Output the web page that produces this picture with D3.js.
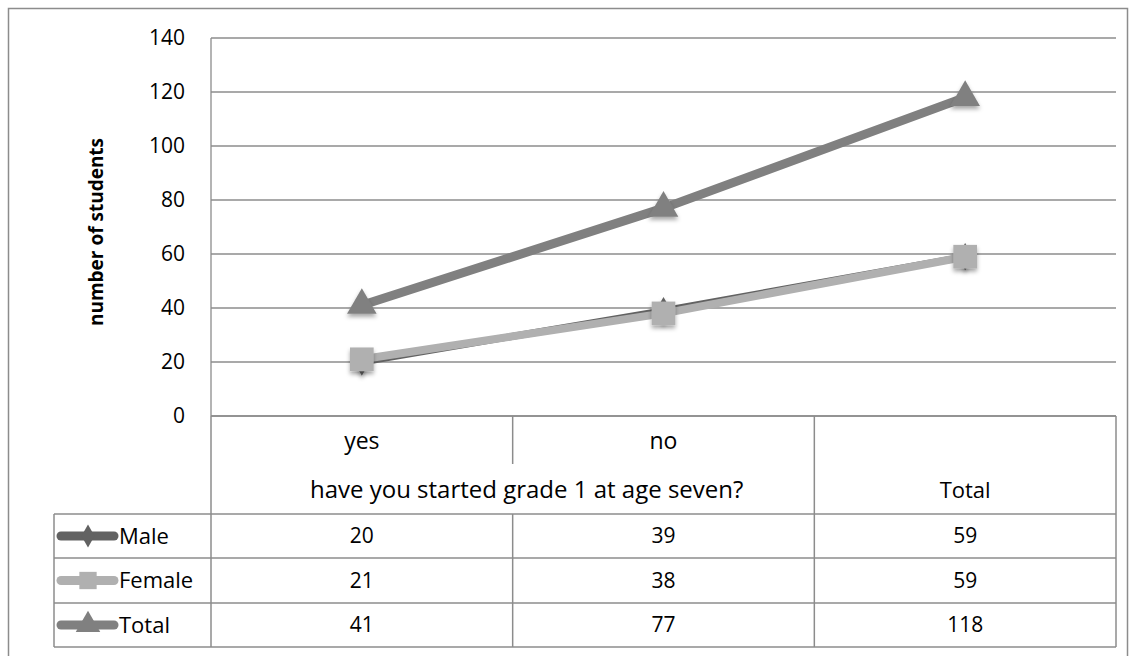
<!DOCTYPE html>
<html>
<head>
<meta charset="utf-8">
<script src="https://cdn.jsdelivr.net/npm/d3@7"></script>
<style>
  html, body { margin: 0; padding: 0; background: #fff; }
  svg { display: block; }
  text { font-family: "Open Sans", Lato, sans-serif; fill: #000; }
</style>
</head>
<body>
<svg id="chart" width="1135" height="656"></svg>
<script>
// Responses to "have you started grade 1 at age seven?"
const categories = ["yes", "no", "Total"];
const groupLabel = "have you started grade 1 at age seven?";
const maleValues = [20, 39, 59];
const femaleValues = [21, 38, 59];
const totalValues = [41, 77, 118];
const yTicks = [0, 20, 40, 60, 80, 100, 120, 140];

const series = [
  { name: "Male", values: maleValues, color: "#626262", width: 7, marker: "diamond" },
  { name: "Female", values: femaleValues, color: "#b0b0b0", width: 8, marker: "square" },
  { name: "Total", values: totalValues, color: "#808080", width: 9, marker: "triangle" }
];

const FS_NUM = 21;   // numbers
const FS_WORD = 23;  // words in the table

const svg = d3.select("#chart");

// Drop shadow for markers
const defs = svg.append("defs");
const f = defs.append("filter").attr("id", "shadow")
  .attr("x", "-50%").attr("y", "-50%").attr("width", "200%").attr("height", "200%");
f.append("feDropShadow").attr("dx", 0).attr("dy", 3).attr("stdDeviation", 2.2)
  .attr("flood-color", "#000").attr("flood-opacity", 0.35);

// Outer frame
svg.append("rect").attr("x", 8.5).attr("y", 8.5).attr("width", 1119).attr("height", 660)
  .attr("fill", "none").attr("stroke", "#8c8c8c").attr("stroke-width", 1.5);

const plot = { left: 211, right: 1116, top: 38, bottom: 416 };

const x = d3.scaleBand().domain(categories).range([plot.left, plot.right]);
const y = d3.scaleLinear().domain([0, 140]).range([plot.bottom, plot.top]);

// Horizontal gridlines
svg.append("g").selectAll("line").data(yTicks).join("line")
  .attr("x1", plot.left).attr("x2", plot.right)
  .attr("y1", d => y(d)).attr("y2", d => y(d))
  .attr("stroke", "#8c8c8c").attr("stroke-width", 1.3);

// Vertical axis line
svg.append("line").attr("x1", plot.left).attr("x2", plot.left)
  .attr("y1", plot.top).attr("y2", plot.bottom)
  .attr("stroke", "#8c8c8c").attr("stroke-width", 1.3);

// Y axis tick labels
svg.append("g").selectAll("text").data(yTicks).join("text")
  .attr("x", 185).attr("y", d => y(d)).attr("dy", "0.35em")
  .attr("text-anchor", "end").attr("font-size", FS_NUM)
  .text(d => d);

// Y axis title
svg.append("text")
  .attr("transform", `translate(103, 232) rotate(-90)`)
  .attr("text-anchor", "middle").attr("font-size", 19).attr("font-weight", "bold")
  .text("number of students");

// Data table under the plot
const rowTops = [514, 558, 603];
const tableBottom = 647;
const tableLeft = 54;
const gridColor = "#8c8c8c";
const tg = svg.append("g");

function hline(x1, x2, yy) {
  tg.append("line").attr("x1", x1).attr("x2", x2).attr("y1", yy).attr("y2", yy)
    .attr("stroke", gridColor).attr("stroke-width", 1.5);
}
function vline(xx, y1, y2) {
  tg.append("line").attr("x1", xx).attr("x2", xx).attr("y1", y1).attr("y2", y2)
    .attr("stroke", gridColor).attr("stroke-width", 1.5);
}

hline(plot.left, plot.right, plot.bottom);
vline(plot.left, plot.bottom, tableBottom);
vline(plot.right, plot.bottom, tableBottom);
// Divider between the grouped categories (top header row only, then data rows)
vline(x("no"), plot.bottom, 464);
vline(x("no"), rowTops[0], tableBottom);
// Divider before Total column
vline(x("Total"), plot.bottom, tableBottom);
rowTops.concat([tableBottom]).forEach(yy => hline(tableLeft, plot.right, yy));
vline(tableLeft, rowTops[0], tableBottom);

// Category labels
tg.selectAll("text.cat").data(categories.slice(0, 2)).join("text").attr("class", "cat")
  .attr("x", d => x(d) + x.bandwidth() / 2).attr("y", 441).attr("dy", "0.35em")
  .attr("text-anchor", "middle").attr("font-size", FS_WORD).text(d => d);
tg.append("text").attr("x", x("yes") + x.bandwidth() + 14).attr("y", 490).attr("dy", "0.35em")
  .attr("text-anchor", "middle").attr("font-size", 24).text(groupLabel);
tg.append("text").attr("x", x("Total") + x.bandwidth() / 2).attr("y", 490).attr("dy", "0.35em")
  .attr("text-anchor", "middle").attr("font-size", 22).text("Total");

// Marker shapes
function markerPath(type, size) {
  const sym = { diamond: d3.symbolDiamond, square: d3.symbolSquare, triangle: d3.symbolTriangle }[type];
  return d3.symbol().type(sym).size(size)();
}
const markerSize = { diamond: 220, square: 560, triangle: 380 };

// Values in the table, with legend keys
series.forEach((s, i) => {
  const cy = (rowTops[i] + (rowTops[i + 1] || tableBottom)) / 2;
  tg.selectAll(null).data(s.values).join("text")
    .attr("x", (d, j) => x(categories[j]) + x.bandwidth() / 2).attr("y", cy).attr("dy", "0.35em")
    .attr("text-anchor", "middle").attr("font-size", FS_NUM).text(d => d);
  tg.append("line").attr("x1", 61).attr("x2", 114).attr("y1", cy).attr("y2", cy)
    .attr("stroke", s.color).attr("stroke-width", 9).attr("stroke-linecap", "round");
  tg.append("path").attr("d", markerPath(s.marker, s.marker === "square" ? 300 : s.marker === "triangle" ? 260 : 150))
    .attr("transform", `translate(88, ${cy})`).attr("fill", s.color);
  tg.append("text").attr("x", 119).attr("y", cy).attr("dy", "0.35em")
    .attr("font-size", 22).text(s.name);
});

// Series lines and markers
const line = d3.line().x((d, j) => x(categories[j]) + x.bandwidth() / 2).y(d => y(d));
series.forEach(s => {
  svg.append("path").datum(s.values).attr("d", line)
    .attr("fill", "none").attr("stroke", s.color).attr("stroke-width", s.width)
    .attr("stroke-linejoin", "round");
});
series.forEach(s => {
  svg.append("g").selectAll("path").data(s.values).join("path")
    .attr("d", markerPath(s.marker, markerSize[s.marker]))
    .attr("transform", (d, j) => `translate(${x(categories[j]) + x.bandwidth() / 2}, ${y(d)})`)
    .attr("fill", s.color).attr("filter", "url(#shadow)");
});
</script>
</body>
</html>
